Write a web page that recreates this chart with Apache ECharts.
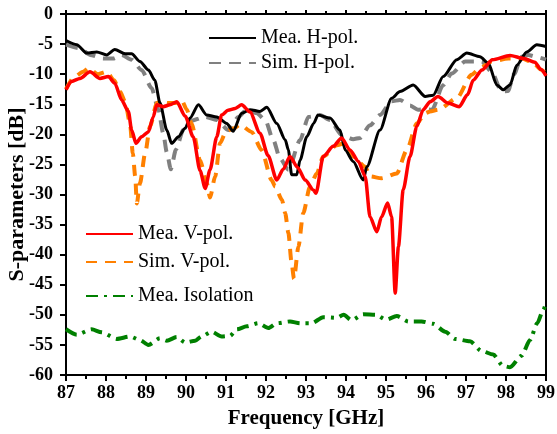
<!DOCTYPE html>
<html>
<head>
<meta charset="utf-8">
<script src="https://cdn.jsdelivr.net/npm/echarts@6/dist/echarts.min.js"></script>
<style>
html,body{margin:0;padding:0;background:#fff;}
#chart{width:557px;height:434px;}
</style>
</head>
<body>
<div id="chart"></div>
<script>
// Frequency [GHz] and S-parameters [dB]
const meaHX = [87,87.27,87.52,87.77,88.02,88.22,88.48,88.64,88.85,89.06,89.22,89.35,89.52,89.64,89.81,89.98,90.1,90.31,90.52,90.77,91.02,91.18,91.39,91.6,91.85,92.02,92.27,92.48,92.56,92.64,92.77,92.85,93.02,93.19,93.3,93.6,93.85,93.98,94.18,94.43,94.52,94.85,95.14,95.35,95.68,95.98,96.18,96.43,96.77,97.02,97.35,97.56,97.77,97.93,98.1,98.27,98.52,98.77,99];
const meaHY = [-4.4,-5.1,-6.5,-6.3,-6.8,-5.9,-6.6,-6.6,-7.9,-9.3,-11,-14.8,-19.3,-21.5,-20.4,-19,-17.3,-15.1,-16.8,-17.1,-18.2,-19.5,-16.5,-15.9,-16.2,-15.5,-18.2,-20.9,-22.6,-26.7,-26.7,-24.3,-20.4,-18.2,-16.8,-17.3,-19.3,-22.6,-24.5,-27.6,-25.4,-19.3,-14,-12.9,-11.8,-13.7,-13.5,-10.4,-7.6,-6.5,-7.1,-8.2,-11.8,-12.6,-11.8,-8.5,-6.3,-5.1,-5.4];

const simHX = [87,87.35,87.6,87.93,88.18,88.39,88.64,88.89,89.14,89.31,89.43,89.52,89.62,89.75,89.93,90.1,90.48,90.77,91.06,91.31,91.52,91.77,91.98,92.18,92.35,92.56,92.85,93.06,93.35,93.6,93.89,94.18,94.35,94.6,94.85,95.14,95.35,95.6,95.8,96,96.15,96.43,96.64,96.98,97.39,97.64,97.89,98.05,98.2,98.39,98.55,98.8,99];
const simHY = [-5.1,-5.7,-6.8,-7.4,-7.4,-6.8,-7.6,-9.3,-12.3,-15.9,-19.8,-23,-25.8,-22.5,-19.3,-17.8,-17.1,-17.6,-19.3,-17.1,-15.9,-16.5,-17.6,-20.9,-24,-25.9,-21,-17.1,-16.8,-17.6,-20.1,-20.8,-20.6,-18.5,-16.8,-14.5,-14.3,-15.2,-15.9,-15.8,-15.9,-11.8,-9.9,-7.9,-7.9,-9.6,-12.9,-12.8,-10,-7.1,-6.8,-7.2,-7.6];

const meaVX = [87,87.14,87.35,87.6,87.85,88.06,88.22,88.39,88.56,88.64,88.75,88.89,89.06,89.18,89.27,89.43,89.6,89.77,89.98,90.18,90.35,90.48,90.6,90.77,90.89,91.05,91.23,91.39,91.6,91.85,92.05,92.27,92.43,92.6,92.79,92.98,93.19,93.25,93.43,93.68,93.89,94.1,94.31,94.48,94.6,94.77,94.89,95.04,95.14,95.23,95.31,95.43,95.6,95.77,95.93,96.1,96.3,96.55,96.83,97.04,97.18,97.4,97.66,98.1,98.45,98.72,98.87,99];
const meaVY = [-12.6,-11.2,-10.7,-9.6,-10.7,-10.4,-11.5,-14.3,-16.2,-19.3,-21.5,-20.4,-19.6,-17.1,-15.1,-15.4,-15.1,-14.6,-17,-20.4,-26,-29,-25.9,-20.4,-16.8,-16,-15.7,-15.1,-16.3,-19.8,-23.5,-27.6,-25.8,-23.7,-25.5,-27.6,-29.3,-29.8,-23.7,-22,-20.6,-22.6,-24.5,-27,-33.7,-36.2,-33.7,-31.4,-33.7,-46.4,-38.7,-29.2,-23.7,-18.7,-15.9,-14.6,-13.7,-14.8,-15.4,-13.4,-11,-9.3,-7.6,-6.9,-7.4,-8,-9.2,-10.3];

const simVX = [87,87.2,87.43,87.56,87.8,88.02,88.2,88.35,88.48,88.6,88.67,88.73,88.77,88.85,88.98,89.1,89.27,89.35,89.55,89.73,89.89,90.02,90.14,90.35,90.52,90.6,90.73,90.85,91,91.2,91.35,91.64,91.89,92.14,92.23,92.4,92.48,92.56,92.64,92.7,92.81,92.93,93.1,93.27,93.43,93.77,93.95,94.18,94.48,94.6,94.89,95.27,95.52,95.77,95.98,96.1,96.31,96.77,97.14,97.35,97.64,98.06,98.39,98.64,98.89,99];
const simVY = [-12.5,-10.5,-9.6,-9,-10,-9.6,-11,-12.9,-14.6,-18.2,-23.1,-27,-31.5,-28.1,-23.1,-18.7,-14.8,-14.6,-14.8,-14.8,-14.3,-15.9,-18.2,-24.3,-28.1,-30.5,-27,-21.5,-19.5,-19,-18.4,-19.6,-22.6,-27.6,-28.7,-30.9,-33.1,-36.4,-41.4,-44,-38.7,-33.1,-28.7,-26.5,-23.7,-21.8,-21.5,-23.7,-25.4,-27,-27.3,-26.5,-22.6,-18.2,-16.5,-16.2,-15.9,-14,-10.1,-9,-7.9,-7.4,-7.4,-7.9,-9.3,-9.9];

const isoX = [87,87.27,87.64,87.89,88.27,88.6,88.85,89.06,89.35,89.52,89.77,89.98,90.23,90.39,90.64,90.89,91.1,91.27,91.52,91.81,92.06,92.27,92.6,92.85,93.14,93.43,93.77,93.94,94.14,94.43,94.75,95,95.27,95.56,95.89,96.18,96.48,96.73,97.1,97.39,97.68,97.93,98.1,98.39,98.6,98.78,98.93,99];
const isoY = [-52.4,-53.3,-52.4,-52.9,-54,-53.6,-54.2,-55,-53.9,-54.3,-53.7,-54.6,-54.3,-53.6,-52.8,-53.6,-53.5,-52.4,-51.9,-51.4,-52.2,-51.4,-51.1,-51.4,-51.4,-50.4,-50.5,-50,-50.9,-49.9,-50,-50.8,-50.2,-51.1,-51.1,-51.5,-52.8,-54,-54.4,-56,-56.6,-58.5,-58.7,-56.8,-54.2,-51.4,-49.2,-48];

const seriesNames = ['Mea. H-pol.','Sim. H-pol.','Mea. V-pol.','Sim. V-pol.','Mea. Isolation'];
const xTicks = [87,99,1];
const yTicks = [-60,0,5];

function zip(xs, ys){ return xs.map((x,i)=>[x, ys[i]]); }

const serif = 'Liberation Serif, Times New Roman, serif';
const chart = echarts.init(document.getElementById('chart'), null, {renderer:'canvas'});

function mkLine(name, xs, ys, color, width, type){
  return {
    name, type:'line', data: zip(xs,ys), symbol:'none', showSymbol:false,
    smooth:0.25, smoothMonotone:'x',
    lineStyle:{color, width, type, cap:'butt'}, itemStyle:{color},
    xAxisIndex:0, yAxisIndex:0, z:3
  };
}

function legendOpt(names, left, top, gap){
  return {
    data:names, orient:'vertical', left, top, itemGap:gap,
    itemWidth:47, itemHeight:14, selectedMode:false,
    itemStyle:{opacity:0},
    textStyle:{fontFamily: serif, fontSize: 20, color:'#000', lineHeight: 20}
  };
}

const tickStyle = {color:'#000', width:2};

chart.setOption({
  backgroundColor:'#fff',
  animation:false,
  grid:{left:66, right:11, top:14, bottom:59, containLabel:false, outerBoundsMode:'none'},
  xAxis:[{
    type:'value', min:xTicks[0], max:xTicks[1], interval:xTicks[2],
    name:'Frequency [GHz]', nameLocation:'middle', nameGap:33, nameMoveOverlap:false,
    nameTextStyle:{fontFamily:serif, fontWeight:'bold', fontSize:21, color:'#000'},
    axisLine:{show:true, onZero:false, lineStyle:{color:'#000', width:2}},
    axisTick:{show:true, inside:false, length:6, lineStyle:tickStyle},
    minorTick:{show:true, splitNumber:2, length:4, lineStyle:tickStyle},
    axisLabel:{margin:9, fontFamily:serif, fontWeight:'bold', fontSize:18, color:'#000'},
    splitLine:{show:false}
  },{
    type:'value', position:'top', min:xTicks[0], max:xTicks[1], interval:xTicks[2],
    axisLine:{show:true, onZero:false, lineStyle:{color:'#000', width:2}},
    axisTick:{show:true, inside:false, length:4, lineStyle:tickStyle},
    minorTick:{show:true, splitNumber:2, length:3, lineStyle:tickStyle},
    axisLabel:{show:false}, splitLine:{show:false}
  }],
  yAxis:[{
    type:'value', min:yTicks[0], max:yTicks[1], interval:yTicks[2],
    name:'S-parameters [dB]', nameLocation:'middle', nameGap:38, nameMoveOverlap:false,
    nameTextStyle:{fontFamily:serif, fontWeight:'bold', fontSize:22, color:'#000'},
    axisLine:{show:true, onZero:false, lineStyle:{color:'#000', width:2}},
    axisTick:{show:true, inside:false, length:6, lineStyle:tickStyle},
    axisLabel:{margin:13, fontFamily:serif, fontWeight:'bold', fontSize:18, color:'#000'},
    splitLine:{show:false}
  },{
    type:'value', position:'right', min:yTicks[0], max:yTicks[1], interval:yTicks[2],
    axisLine:{show:true, onZero:false, lineStyle:{color:'#000', width:2}},
    axisTick:{show:false}, axisLabel:{show:false}, splitLine:{show:false}
  }],
  legend:[
    legendOpt([seriesNames[0], seriesNames[1]], 203, 23, 5),
    legendOpt([seriesNames[2], seriesNames[3]], 80, 219, 8),
    legendOpt([seriesNames[4]], 80, 281, 10)
  ],
  series:[
    mkLine(seriesNames[4], isoX, isoY, '#008000', 4, [12,6,3,6]),
    mkLine(seriesNames[1], simHX, simHY, '#808080', 4, [12,8]),
    mkLine(seriesNames[3], simVX, simVY, '#ff8000', 4, [11,8]),
    mkLine(seriesNames[0], meaHX, meaHY, '#000000', 3, 'solid'),
    mkLine(seriesNames[2], meaVX, meaVY, '#ff0000', 3.5, 'solid')
  ]
});
</script>
</body>
</html>
